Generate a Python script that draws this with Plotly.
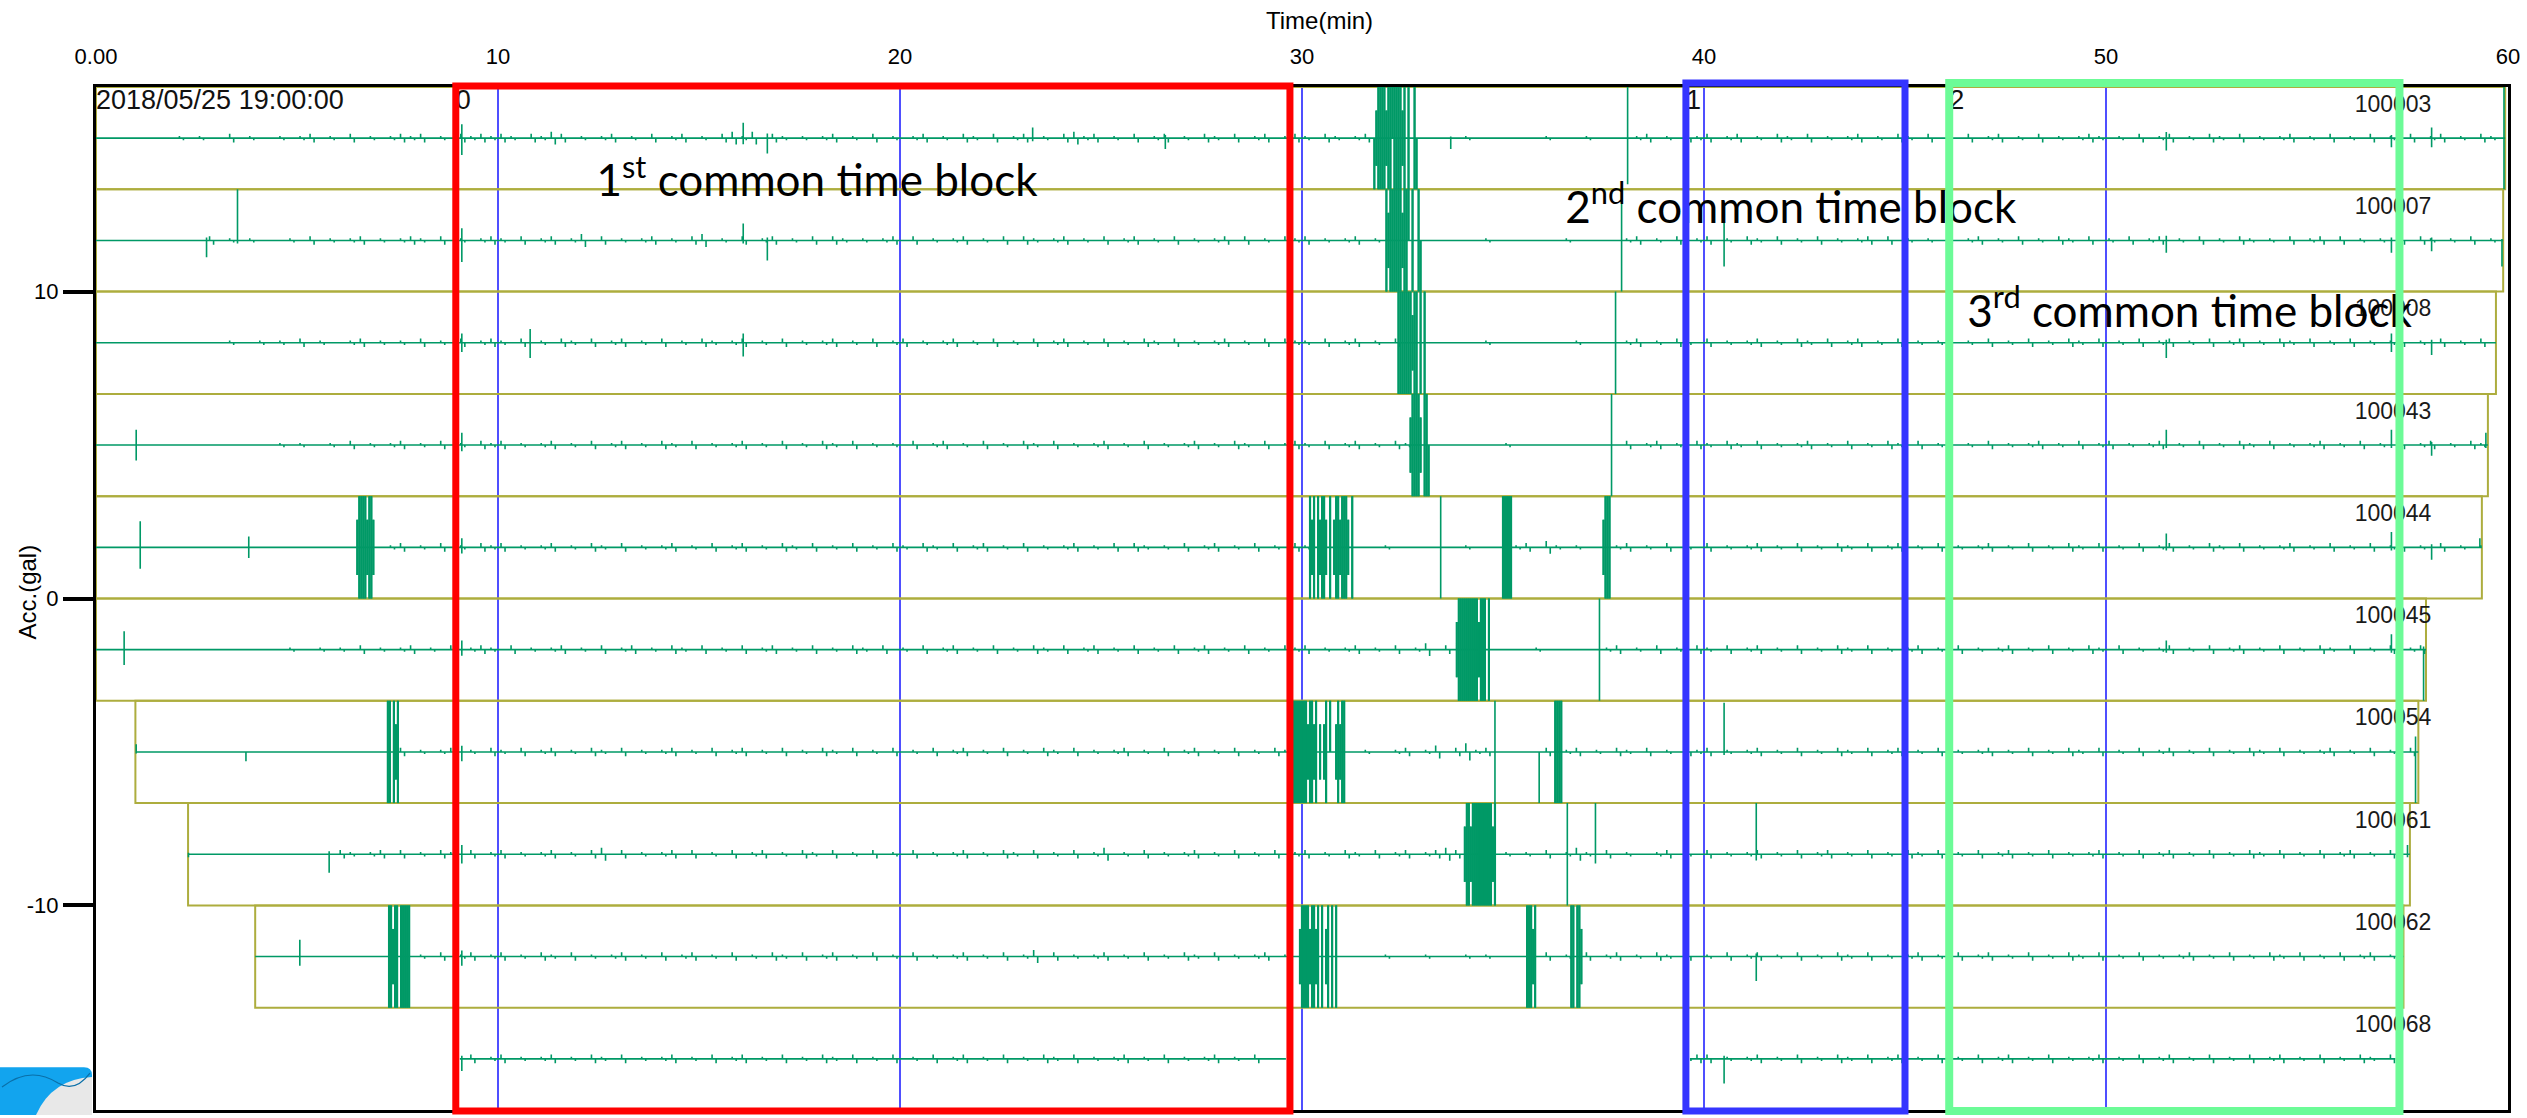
import plotly.graph_objects as go

# ---------------- data ----------------
STATIONS = ["100003", "100007", "100008", "100043", "100044",
            "100045", "100054", "100061", "100062", "100068"]

# recording boxes (minutes)
BOX_START = [0.0, 0.0, 0.0, 0.0, 0.0, 0.0, 0.98, 2.29, 3.96, None]
BOX_END = [59.93, 59.88, 59.70, 59.50, 59.35, 57.96, 57.77, 57.56, 57.40, None]

# extents of the drawn waveform
TRACE_SEGMENTS = [
    [(0.0, 59.93)], [(0.0, 59.88)], [(0.0, 59.70)], [(0.0, 59.50)], [(0.0, 59.35)],
    [(0.0, 57.96)], [(0.98, 57.77)], [(2.29, 57.56)], [(3.96, 57.40)],
    [(9.05, 29.60), (39.65, 57.20)],
]

# background noise level per 10-minute chunk ('-' = quiet, digit = amplitude level)
JITTER = [
    ["--------1-1--2-1--1-12-1-2-1-1212-1-2121",
     "21-2132-1-12-1-2-12-1-2313-21-1-12-1-2-1",
     "-12-1-21-2-12-1-2312-1-2-12-1-21-2-12-12",
     "1-21-12---------1-------1---1----12-1-21",
     "2-12-1-21-2-1-12-1-21-2-1-2-12-1-2-1-121",
     "-1-2-12-1-21-2-1-12-1-2-1-2-1-2-12-1-21-"],
    ["-----------2-1-1---1-2-1-12-1-121-2-1-12",
     "1-2-12-13-2-1-12-1-23-1-2-12-1-2-21-1-12",
     "-2-1-12-1-2-21-12-1-2-12-1-2-1-12-2-1-21",
     "2-1-12-1----------1-------1-----12-1-2-1",
     "2-1-21-2-1-2-1-12-2-1-1-2-12-1-2-1-21-2-",
     "1-2-12-1-2-1-21-1-2-12-2-1-1-2-21-1-2-1-"],
    ["-------------1--1-1-2-1--12-1-1-2-1-2-12",
     "1-2-1-21-2-12-1-2-1-21-12-1-2-1-12-1-2-1",
     "2-1-12-1-2-1-2-12-1-2-1-21-2-1-12-1-2-21",
     "1-2-12-1-2--------1--------1----12-1-21-",
     "2-1-12-1-21-2-12-1-2-1-12-1-2-1-2-1-21-2",
     "-1-2-12-1-2-12-1-21-2-1-2-1-12-1-2-1-2--"],
    ["------------------1-1--1-2-1-12-1-2-1-21",
     "2-1-12-1-2-12-1-21-2-1-12-1-2-1-21-2-1-1",
     "-2-12-1-2-1-21-2-1-12-1-2-1-12-1-21-2-12",
     "1-2-12-1-21---------1-----------2-12-1-2",
     "1-21-2-1-12-1-2-1-21-2-12-1-2-1-12-1-2-1",
     "2-1-12-1-2-1-21-2-1-12-1-2-1-2-12-1-21-1"],
    ["-----------------------------12-1-2-1-21",
     "2-1-12-1-21-2-1-12-1-2-12-1-21-2-1-2-1-2",
     "1-21-2-12-1-2-1-12-1-2-21-1-2-12-1-2-1-2",
     "1-------1-------1----12-31-1---12-1-2-1-",
     "2-1-12-1-2-1-21-2-12-1-2-1-12-1-2-1-21-2",
     "-1-2-12-1-21-2-1-12-1-2-1-2-12-1-2-1-1--"],
    ["-------------------1--1-1-2-1-12-1-2-121",
     "-2-1-12-1-2-12-1-21-2-1-2-12-1-2-1-21-2-",
     "1-2-12-1-2-1-21-2-12-1-2-1-2-12-1-2-1-21",
     "2-1-12-1-2-13-2--------1------12-1-2-1-2",
     "1-2-12-1-2-1-21-2-1-12-1-2-1-12-1-2-1-21",
     "-2-1-12-1-2-12-1-2-1-21-2-1-2-12-1------"],
    ["------------------------------2-1-12-1-2",
     "1-2-12-1-21-2-1-12-1-2-12-1-2-1-21-2-1-2",
     "-1-2-12-1-2-1-21-2-1-12-1-2-12-1-2-1-21-",
     "------1--12-13-2412-----2-12-1-21-2-1-21",
     "2-1-12-1-2-1-21-2-12-1-2-1-12-1-2-1-21-2",
     "-1-2-12-1-2-1-21-2-1-12-1-2-1-2-1--2-1--"],
    ["------------------------21-12-2-1-21-2-1",
     "2-1-12-1-23-2-1-12-2-1-2-12-1-21-2-1-2-1",
     "-2-1-12-1-21-2-1-2-13-1-2-1-12-1-2-1-2-1",
     "2-1-21-2-12-1232----1-1-2-131-2-1--12-1-",
     "2-1-12-1-2-12-1-2-1-21-2-1-2-12-1-2-1-12",
     "-1-2-12-1-2-1-21-2-1-2-12-1-2-1-21-2----"],
    ["--------------------------------1-2-12-1",
     "2-1-21-2-1-12-1-2-12-1-2-1-21-2-12-1-2-1",
     "-2-1-12-1-2-13-2-1-12-1-2-1-21-2-1-12-1-",
     "--------1---1---1-1-----2-1-2-12-1-21-2-",
     "1-2-12-1-2-1-21-2-1-12-1-2-12-1-2-1-21-2",
     "-1-2-1-12-1-2-1-21-2-1-2-12-1-2-1-2-1---"],
    ["-------------------------------------2-1",
     "2-1-12-1-21-2-1-12-1-2-12-1-2-1-21-2-1-2",
     "-1-2-12-1-2-1-21-2-1-12-1-2-1-12-1-2----",
     "--------------------------------------12",
     "2-1-12-1-2-1-21-2-12-1-2-1-2-12-1-2-1-12",
     "-1-2-12-1-2-1-2-12-1-2-1-21-2-1-2-1-----"],
]

# isolated spikes: (minute, up, down) in gal, large values clip at the row edge
SPIKES = [
    [(9.1, 0.45, 0.55), (16.1, 0.5, 0.2), (16.7, 0.15, 0.5), (23.3, 0.35, 0.1), (26.6, 0.1, 0.35),
     (33.7, 0.05, 0.35), (38.1, 9, 1.5), (51.5, 0.2, 0.4), (57.1, 0.1, 0.3), (58.1, 0.35, 0.3), (59.9, 9, 9)],
    [(2.75, 0.1, 0.55), (3.52, 9, 0.1), (9.1, 0.4, 0.7), (16.1, 0.55, 0.1), (16.7, 0.1, 0.65),
     (37.95, 9, 9), (40.5, 0.6, 0.85), (51.5, 0.15, 0.4), (57.1, 0.1, 0.4), (58.1, 0.1, 0.35), (59.85, 0.05, 0.85)],
    [(9.1, 0.3, 0.3), (10.8, 0.45, 0.5), (16.1, 0.3, 0.45), (37.8, 9, 9), (51.5, 0.1, 0.5),
     (57.1, 0.3, 0.3), (58.1, 0.1, 0.4)],
    [(1.0, 0.5, 0.5), (9.1, 0.4, 0.2), (37.7, 9, 9), (51.5, 0.5, 0.1), (57.1, 0.5, 0.1),
     (58.1, 0.1, 0.35), (59.45, 0.4, 0.1)],
    [(1.1, 0.85, 0.7), (3.8, 0.35, 0.35), (9.1, 0.3, 0.2), (33.45, 9, 9), (51.5, 0.45, 0.1),
     (57.1, 0.5, 0.1), (58.1, 0.1, 0.4), (59.3, 0.3, 0.0)],
    [(0.7, 0.6, 0.5), (9.1, 0.3, 0.2), (37.4, 9, 9), (51.5, 0.3, 0.1), (57.1, 0.5, 0.1), (57.9, 0.1, 9)],
    [(1.0, 0.25, 0.05), (3.73, 0.0, 0.3), (9.1, 0.2, 0.3), (34.8, 9, 9), (35.9, 0.0, 9),
     (40.5, 1.6, 0.1), (57.7, 0.5, 9)],
    [(2.3, 0.05, 0.1), (5.8, 0.1, 0.6), (9.1, 0.3, 0.3), (36.6, 9, 9), (37.3, 9, 0.3),
     (41.3, 9, 0.2), (57.5, 0.3, 0.1)],
    [(5.07, 0.55, 0.3), (9.1, 0.2, 0.3), (41.3, 0.1, 0.8), (57.35, 0.1, 9)],
    [(9.1, 0.1, 0.4), (40.5, 0.1, 0.8)],
]

# saturated bursts: (start minute, stroke pattern every 0.05 min)
BURSTS = [
    [(31.8, "DhXXXXhXXUXXXXhX.X..XD")],
    [(32.1, "XhXXXXXXhXXU.X..XD")],
    [(32.4, "XXXXXXXhXX.X.X")],
    [(32.7, "hXXXXh.XXD")],
    [(6.5, "hXXXXhXXh"), (30.2, "XhX.XhXXh.X.hXXhXXXh.X"), (35.0, "XXXXX"), (37.5, "hXXX")],
    [(33.85, "hXXXXXXXXXXhXXX.X")],
    [(7.26, "XX.XhX"), (29.8, "XXXXXXXhXXhX.h.hX.U..hXhXX"), (36.3, "XXXX")],
    [(34.05, "hXXhXXXXXXXXXXhX")],
    [(7.29, "XXhXX.XXXXX"), (29.95, "hXXXXhXXhX.X.hX.X.X"), (35.6, "XXXhX"), (36.7, "XX.XXh")],
    [],
]

BLOCK_START = [8.95, 39.55, 46.1]
BLOCK_END = [29.7, 45.0, 57.3]
BLOCK_INDEX = ["0", "1", "2"]
BLOCK_TITLES = ["1<sup>st</sup> common time block",
                "2<sup>nd</sup> common time block",
                "3<sup>rd</sup> common time block"]
START_STAMP = "2018/05/25 19:00:00"

X_TICKS = [0, 10, 20, 30, 40, 50, 60]
X_TICKTEXT = ["0.00", "10", "20", "30", "40", "50", "60"]
Y_TICKS = [10, 0, -10]
Y_TICKTEXT = ["10", "0", "-10"]

# ---------------- style ----------------
ROW_H = 10.0 / 3.0
HALF = ROW_H / 2.0
TOP_BASE = 15.0
LEVEL = 0.07
BURST_STEP = 0.05
BURST_AMP = {"X": (9, 9), "U": (9, 0), "D": (0, 9), "h": (0.9, 0.9)}
GREEN = "#009966"
OLIVE = "#ADAD3E"
GRID_BLUE = "#4F4FFF"
BLOCK_COLORS = ["#FF0000", "#3535FF", "#6CFB97"]
BLOCK_WIDTHS = [7, 7, 8]
BLOCK_TOPS = [1.001, 1.004, 1.004]
FONT = "Liberation Sans, Arial, sans-serif"
BIG_FONT = "Lato, Open Sans, sans-serif"

# plot-area geometry in pixels (for paper-referenced decorations)
PL, PR, PT, PB = 96, 2508, 87, 1113


def px(xp):
    return (xp - PL) / (PR - PL)


def py(yp):
    return (PB - yp) / (PB - PT)


fig = go.Figure()

# recording boxes
for i in range(len(STATIONS)):
    if BOX_START[i] is None:
        continue
    base = TOP_BASE - i * ROW_H
    fig.add_shape(type="rect", xref="x", yref="y",
                  x0=BOX_START[i], x1=BOX_END[i], y0=base - HALF, y1=base + HALF,
                  line=dict(color=OLIVE, width=2), layer="between")

# waveforms
bx, by = [], []
for i in range(len(STATIONS)):
    base = TOP_BASE - i * ROW_H
    events = []
    for k, chunk in enumerate(JITTER[i]):
        n = len(chunk)
        w = 10.0 / n
        for j, ch in enumerate(chunk):
            if ch.isdigit() and ch != "0":
                a = int(ch) * LEVEL
                t0 = 10 * k + j * w
                events.append((t0 + 0.3 * w, a, 0.0))
                events.append((t0 + 0.7 * w, 0.0, a))
    events.extend(SPIKES[i])
    for t0, pat in BURSTS[i]:
        for j, ch in enumerate(pat):
            if ch in BURST_AMP:
                u, d = BURST_AMP[ch]
                t = t0 + j * BURST_STEP
                events.append((t, u, d))
                bx += [t, t, None]
                by += [base + min(u, HALF), base - min(d, HALF), None]
    events.sort()
    xs, ys = [], []
    for s, e in TRACE_SEGMENTS[i]:
        xs.append(s)
        ys.append(base)
        for t, u, d in events:
            if s <= t <= e:
                u = min(u, HALF)
                d = min(d, HALF)
                xs += [t, t, t, t]
                ys += [base, base + u, base - d, base]
        xs.append(e)
        ys.append(base)
        xs.append(None)
        ys.append(None)
    fig.add_trace(go.Scatter(x=xs, y=ys, mode="lines",
                             line=dict(color=GREEN, width=1.6),
                             hoverinfo="skip", showlegend=False))

# dense strokes of the saturated bursts
fig.add_trace(go.Scatter(x=bx, y=by, mode="lines", line=dict(color=GREEN, width=2.2),
                         hoverinfo="skip", showlegend=False))

# station labels
fig.add_trace(go.Scatter(
    x=[57.14] * len(STATIONS),
    y=[TOP_BASE - i * ROW_H + 1.05 for i in range(len(STATIONS))],
    text=STATIONS, mode="text", textposition="middle center",
    textfont=dict(family=FONT, size=23, color="#1a1a1a"),
    hoverinfo="skip", showlegend=False))

# start stamp and block indices
fig.add_trace(go.Scatter(
    x=[0.0] + BLOCK_START, y=[16.18] * (1 + len(BLOCK_START)),
    text=[START_STAMP] + BLOCK_INDEX, mode="text", textposition="middle right",
    textfont=dict(family=FONT, size=27, color="#111111"),
    hoverinfo="skip", showlegend=False))

# block titles
fig.add_trace(go.Scatter(
    x=[12.45, 36.55, 46.55], y=[13.47, 12.6, 9.22],
    text=BLOCK_TITLES, mode="text", textposition="middle right",
    textfont=dict(family=BIG_FONT, size=44, color="black"),
    hoverinfo="skip", showlegend=False))

# common time blocks
for k in range(len(BLOCK_START)):
    fig.add_shape(type="rect", xref="x", yref="paper",
                  x0=BLOCK_START[k], x1=BLOCK_END[k], y0=-0.001, y1=BLOCK_TOPS[k],
                  line=dict(color=BLOCK_COLORS[k], width=BLOCK_WIDTHS[k]), layer="above")

# corner logo fragment (bottom-left)
fig.add_shape(type="path", xref="paper", yref="paper", layer="above",
              path=(f"M {px(0)} {py(1070)} L {px(84)} {py(1070)} "
                    f"Q {px(92)} {py(1070)} {px(92)} {py(1078)} "
                    f"L {px(92)} {py(1118)} L {px(0)} {py(1118)} Z"),
              fillcolor="#12A4EE", line=dict(width=0))
fig.add_shape(type="path", xref="paper", yref="paper", layer="above",
              path=(f"M {px(36)} {py(1118)} Q {px(52)} {py(1082)} {px(92)} {py(1080)} "
                    f"L {px(92)} {py(1118)} Z"),
              fillcolor="#E8E8E8", line=dict(width=0))
fig.add_shape(type="path", xref="paper", yref="paper", layer="above",
              path=(f"M {px(2)} {py(1090)} Q {px(30)} {py(1068)} {px(58)} {py(1086)} "
                    f"Q {px(75)} {py(1096)} {px(90)} {py(1076)}"),
              line=dict(color="#0A6FA8", width=1.2))

fig.update_layout(
    width=2527, height=1118,
    margin=dict(l=PL, r=2527 - PR, t=PT, b=1118 - PB),
    paper_bgcolor="white", plot_bgcolor="white", showlegend=False,
    xaxis=dict(range=[0, 60], side="top", tickvals=X_TICKS, ticktext=X_TICKTEXT,
               ticks="", showgrid=True, gridcolor=GRID_BLUE, gridwidth=1.5,
               zeroline=False, showline=True, linecolor="black", linewidth=3, mirror=True,
               tickfont=dict(family=FONT, size=22, color="black"), ticklabelstandoff=11),
    yaxis=dict(range=[-16.667, 16.667], tickvals=Y_TICKS, ticktext=Y_TICKTEXT,
               ticks="outside", ticklen=30, tickwidth=4, tickcolor="black",
               showgrid=False, zeroline=False, showline=True, linecolor="black",
               linewidth=3, mirror=True,
               tickfont=dict(family=FONT, size=22, color="black")),
    annotations=[
        dict(text="Time(min)", xref="paper", yref="paper",
             x=px(1319), y=py(20), xanchor="center", yanchor="middle",
             showarrow=False, font=dict(family=FONT, size=24, color="black")),
        dict(text="Acc.(gal)", xref="paper", yref="paper",
             x=px(28), y=py(594), xanchor="center", yanchor="middle",
             textangle=-90, showarrow=False,
             font=dict(family=FONT, size=24, color="black")),
    ],
)

fig.write_html("out.html")
